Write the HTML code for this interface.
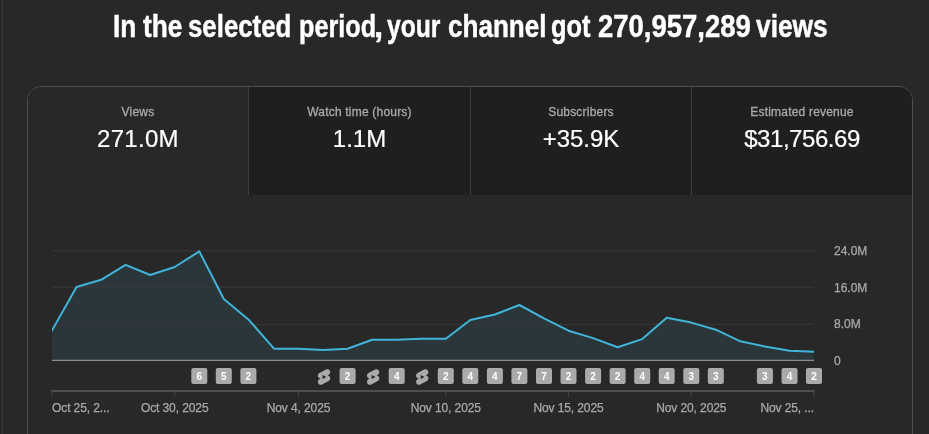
<!DOCTYPE html>
<html lang="en"><head><meta charset="utf-8"><title>Channel analytics</title>
<style>
html,body{margin:0;padding:0;background:#282828;}
body{width:929px;height:434px;overflow:hidden;position:relative;font-family:"Liberation Sans",sans-serif;color:#fff;}
.edge{position:absolute;left:2px;top:0;width:1px;height:434px;background:#3a3a3a;}
h1{position:absolute;left:0;top:8px;width:941px;margin:0;text-align:left;font-size:30.5px;-webkit-text-stroke:0.45px #fff;line-height:36px;font-weight:bold;color:#fff;white-space:nowrap;}
h1 span{position:absolute;top:0;display:block;transform-origin:0 0;}
.card{position:absolute;left:27px;top:86px;width:884px;height:400px;border:1px solid #505050;border-radius:14px;background:#282828;overflow:hidden;}
.tabs{position:absolute;left:0;top:0;width:884px;height:108px;display:flex;}
.tab{width:221px;height:108px;box-sizing:border-box;background:#1f1f1f;border-left:1px solid #3e3e3e;text-align:center;}
.tab.sel{background:#282828;border-left:none;}
.tab .lbl{margin-top:17px;font-size:12px;line-height:16px;color:#aaaaaa;letter-spacing:0.2px;-webkit-text-stroke:0.3px #aaaaaa;}
.tab .val{margin-top:5px;font-size:24px;line-height:28px;color:#fff;-webkit-text-stroke:0.2px #fff;}
svg{position:absolute;left:0;top:0;}
.bt{font:bold 10px "Liberation Sans",sans-serif;fill:#fff;}
.xl,.yl{font:12px "Liberation Sans",sans-serif;fill:#aaaaaa;stroke:#aaaaaa;stroke-width:0.25px;}
.xl{letter-spacing:-0.1px;}
</style></head><body>
<div class="edge"></div>
<h1><span style="left:112.78px;transform:scaleX(0.8583)">In</span> <span style="left:142.70px;transform:scaleX(0.8600)">the</span> <span style="left:188.15px;transform:scaleX(0.8467)">selected</span> <span style="left:299.47px;transform:scaleX(0.8275)">period</span><span style="left:374.44px;transform:scaleX(1.0800)">,</span> <span style="left:387.30px;transform:scaleX(0.8091)">your</span> <span style="left:448.15px;transform:scaleX(0.8540)">channel</span> <span style="left:551.17px;transform:scaleX(0.8319)">got</span> <span style="left:598.10px;transform:scaleX(0.9012)">270,957,289</span> <span style="left:756.20px;transform:scaleX(0.8634)">views</span></h1>
<div class="card">
 <div class="tabs">
  <div class="tab sel" style="width:220px"><div class="lbl">Views</div><div class="val" style="letter-spacing:0.3px">271.0M</div></div>
  <div class="tab" style="width:222px"><div class="lbl">Watch time (hours)</div><div class="val">1.1M</div></div>
  <div class="tab"><div class="lbl">Subscribers</div><div class="val">+35.9K</div></div>
  <div class="tab"><div class="lbl">Estimated revenue</div><div class="val" style="letter-spacing:-0.45px">$31,756.69</div></div>
 </div>
</div>
<svg width="929" height="434" viewBox="0 0 929 434">
 <polygon points="52.0,360.5 52.0,330.5 76.5,287.0 101.1,279.8 125.6,264.9 150.2,275.0 174.7,267.0 199.3,251.4 223.8,299.0 248.4,319.4 274.0,348.7 298.5,348.8 323.0,350.1 347.6,348.8 372.1,339.7 396.7,339.7 421.2,338.8 445.8,338.8 470.3,320.0 494.9,314.5 519.4,305.0 544.0,318.4 568.5,330.7 593.1,338.1 617.6,347.2 642.2,339.1 666.7,317.8 691.3,322.6 715.8,329.7 740.4,341.3 764.9,346.5 789.5,350.7 814.0,351.7 814.0,360.5" fill="#41b4d9" fill-opacity="0.105"/>
 <rect x="52" y="250.3" width="762" height="1" fill="#3a3a3a"/>
 <rect x="52" y="286.7" width="762" height="1" fill="#3a3a3a"/>
 <rect x="52" y="323.8" width="762" height="1" fill="#3a3a3a"/>
 <rect x="52" y="359.8" width="762" height="1" fill="#a0a6a6"/>
 <clipPath id="pc"><rect x="52" y="240" width="762" height="125"/></clipPath>
 <polyline points="52.0,330.5 76.5,287.0 101.1,279.8 125.6,264.9 150.2,275.0 174.7,267.0 199.3,251.4 223.8,299.0 248.4,319.4 274.0,348.7 298.5,348.8 323.0,350.1 347.6,348.8 372.1,339.7 396.7,339.7 421.2,338.8 445.8,338.8 470.3,320.0 494.9,314.5 519.4,305.0 544.0,318.4 568.5,330.7 593.1,338.1 617.6,347.2 642.2,339.1 666.7,317.8 691.3,322.6 715.8,329.7 740.4,341.3 764.9,346.5 789.5,350.7 814.0,351.7" fill="none" stroke="#41b4d9" stroke-width="2" stroke-linejoin="round" stroke-linecap="square" clip-path="url(#pc)"/>
 <text x="834" y="254.7" class="yl">24.0M</text>
 <text x="834" y="292" class="yl">16.0M</text>
 <text x="834" y="327.8" class="yl">8.0M</text>
 <text x="834" y="365" class="yl">0</text>
 <rect x="191.3" y="368" width="16" height="16" rx="2" fill="#aaaaaa"/><text x="199.3" y="379.6" text-anchor="middle" class="bt">6</text>
<rect x="215.8" y="368" width="16" height="16" rx="2" fill="#aaaaaa"/><text x="223.8" y="379.6" text-anchor="middle" class="bt">5</text>
<rect x="240.4" y="368" width="16" height="16" rx="2" fill="#aaaaaa"/><text x="248.4" y="379.6" text-anchor="middle" class="bt">2</text>
<g transform="translate(314.75,367.70) scale(0.7750)"><path fill="#aaaaaa" d="M17.77 10.32l-1.2-.5L18 9.06c1.84-.96 2.53-3.23 1.56-5.06s-3.24-2.53-5.07-1.56L6 6.94c-1.29.68-2.07 2.04-2 3.49.07 1.42.93 2.67 2.22 3.25.03.01 1.2.5 1.2.5L6 14.93c-1.83.97-2.53 3.24-1.56 5.07.97 1.83 3.24 2.53 5.07 1.56l8.5-4.5c1.29-.68 2.06-2.04 1.99-3.49-.07-1.42-.94-2.68-2.23-3.25zM10 14.65v-5.3L15 12l-5 2.65z"/></g>
<rect x="339.6" y="368" width="16" height="16" rx="2" fill="#aaaaaa"/><text x="347.6" y="379.6" text-anchor="middle" class="bt">2</text>
<g transform="translate(363.84,367.70) scale(0.7750)"><path fill="#aaaaaa" d="M17.77 10.32l-1.2-.5L18 9.06c1.84-.96 2.53-3.23 1.56-5.06s-3.24-2.53-5.07-1.56L6 6.94c-1.29.68-2.07 2.04-2 3.49.07 1.42.93 2.67 2.22 3.25.03.01 1.2.5 1.2.5L6 14.93c-1.83.97-2.53 3.24-1.56 5.07.97 1.83 3.24 2.53 5.07 1.56l8.5-4.5c1.29-.68 2.06-2.04 1.99-3.49-.07-1.42-.94-2.68-2.23-3.25zM10 14.65v-5.3L15 12l-5 2.65z"/></g>
<rect x="388.7" y="368" width="16" height="16" rx="2" fill="#aaaaaa"/><text x="396.7" y="379.6" text-anchor="middle" class="bt">4</text>
<g transform="translate(412.94,367.70) scale(0.7750)"><path fill="#aaaaaa" d="M17.77 10.32l-1.2-.5L18 9.06c1.84-.96 2.53-3.23 1.56-5.06s-3.24-2.53-5.07-1.56L6 6.94c-1.29.68-2.07 2.04-2 3.49.07 1.42.93 2.67 2.22 3.25.03.01 1.2.5 1.2.5L6 14.93c-1.83.97-2.53 3.24-1.56 5.07.97 1.83 3.24 2.53 5.07 1.56l8.5-4.5c1.29-.68 2.06-2.04 1.99-3.49-.07-1.42-.94-2.68-2.23-3.25zM10 14.65v-5.3L15 12l-5 2.65z"/></g>
<rect x="437.8" y="368" width="16" height="16" rx="2" fill="#aaaaaa"/><text x="445.8" y="379.6" text-anchor="middle" class="bt">2</text>
<rect x="462.3" y="368" width="16" height="16" rx="2" fill="#aaaaaa"/><text x="470.3" y="379.6" text-anchor="middle" class="bt">4</text>
<rect x="486.9" y="368" width="16" height="16" rx="2" fill="#aaaaaa"/><text x="494.9" y="379.6" text-anchor="middle" class="bt">4</text>
<rect x="511.4" y="368" width="16" height="16" rx="2" fill="#aaaaaa"/><text x="519.4" y="379.6" text-anchor="middle" class="bt">7</text>
<rect x="536.0" y="368" width="16" height="16" rx="2" fill="#aaaaaa"/><text x="544.0" y="379.6" text-anchor="middle" class="bt">7</text>
<rect x="560.5" y="368" width="16" height="16" rx="2" fill="#aaaaaa"/><text x="568.5" y="379.6" text-anchor="middle" class="bt">2</text>
<rect x="585.1" y="368" width="16" height="16" rx="2" fill="#aaaaaa"/><text x="593.1" y="379.6" text-anchor="middle" class="bt">2</text>
<rect x="609.6" y="368" width="16" height="16" rx="2" fill="#aaaaaa"/><text x="617.6" y="379.6" text-anchor="middle" class="bt">2</text>
<rect x="634.2" y="368" width="16" height="16" rx="2" fill="#aaaaaa"/><text x="642.2" y="379.6" text-anchor="middle" class="bt">4</text>
<rect x="658.7" y="368" width="16" height="16" rx="2" fill="#aaaaaa"/><text x="666.7" y="379.6" text-anchor="middle" class="bt">4</text>
<rect x="683.3" y="368" width="16" height="16" rx="2" fill="#aaaaaa"/><text x="691.3" y="379.6" text-anchor="middle" class="bt">3</text>
<rect x="707.8" y="368" width="16" height="16" rx="2" fill="#aaaaaa"/><text x="715.8" y="379.6" text-anchor="middle" class="bt">3</text>
<rect x="756.9" y="368" width="16" height="16" rx="2" fill="#aaaaaa"/><text x="764.9" y="379.6" text-anchor="middle" class="bt">3</text>
<rect x="781.5" y="368" width="16" height="16" rx="2" fill="#aaaaaa"/><text x="789.5" y="379.6" text-anchor="middle" class="bt">4</text>
<rect x="806.0" y="368" width="16" height="16" rx="2" fill="#aaaaaa"/><text x="814.0" y="379.6" text-anchor="middle" class="bt">2</text>
 <rect x="51.5" y="390" width="763" height="2" fill="#4f4f4f"/>
 <rect x="51.5" y="390" width="1" height="7" fill="#454545"/><text x="52.0" y="412" text-anchor="start" class="xl">Oct 25, 2...</text>
<rect x="174.2" y="390" width="1" height="7" fill="#454545"/><text x="174.7" y="412" text-anchor="middle" class="xl">Oct 30, 2025</text>
<rect x="298.0" y="390" width="1" height="7" fill="#454545"/><text x="298.5" y="412" text-anchor="middle" class="xl">Nov 4, 2025</text>
<rect x="445.3" y="390" width="1" height="7" fill="#454545"/><text x="445.8" y="412" text-anchor="middle" class="xl">Nov 10, 2025</text>
<rect x="568.0" y="390" width="1" height="7" fill="#454545"/><text x="568.5" y="412" text-anchor="middle" class="xl">Nov 15, 2025</text>
<rect x="690.8" y="390" width="1" height="7" fill="#454545"/><text x="691.3" y="412" text-anchor="middle" class="xl">Nov 20, 2025</text>
<rect x="813.5" y="390" width="1" height="7" fill="#454545"/><text x="814.0" y="412" text-anchor="end" class="xl">Nov 25, ...</text>
</svg>
</body></html>
